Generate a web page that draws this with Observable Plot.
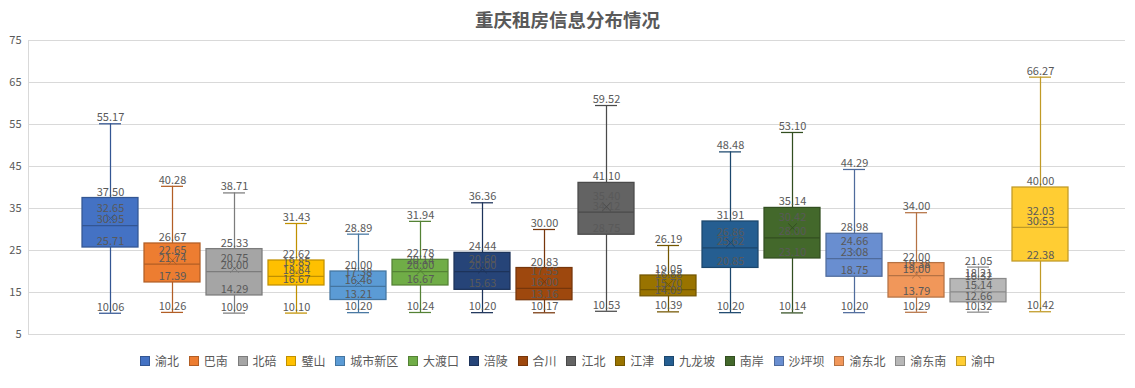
<!DOCTYPE html>
<html>
<head>
<meta charset="utf-8">
<script src="https://cdn.jsdelivr.net/npm/d3@7"></script>
<script src="https://cdn.jsdelivr.net/npm/@observablehq/plot@0.6"></script>
<style>
  body { margin: 0; background: #fff; font-family: "Noto Sans CJK SC", "Noto Sans", sans-serif; }
  #title { box-sizing: border-box; height: 28px; padding-top: 8px; line-height: 22px; text-align: center;
           font-size: 18.5px; font-weight: bold; color: #595959; }
  #chart svg { display: block; }
  #legend { box-sizing: border-box; height: 34px; padding: 0; display: flex; justify-content: center;
            align-items: center; font-size: 12px; color: #595959; line-height: 14px; }
  .item { display: flex; align-items: center; margin: 0 4.9px; }
  .sw { width: 8px; height: 8px; margin-right: 5px; border: 1px solid; }
</style>
</head>
<body>
<div id="title">重庆租房信息分布情况</div>
<div id="chart"></div>
<div id="legend"></div>
<script>
const categories = ["渝北","巴南","北碚","璧山","城市新区","大渡口","涪陵","合川","江北","江津","九龙坡","南岸","沙坪坝","渝东北","渝东南","渝中"];
const mins    = [10.06,10.26,10.09,10.10,10.20,10.24,10.20,10.17,10.53,10.39,10.20,10.14,10.20,10.29,10.32,10.42];
const q1s     = [25.71,17.39,14.29,16.67,13.21,16.67,15.63,13.16,28.75,14.09,20.85,23.10,18.75,13.79,12.66,22.38];
const medians = [30.95,21.74,20.00,18.84,16.46,20.00,20.00,16.00,34.12,15.70,25.62,28.00,23.08,19.00,15.14,30.53];
const means   = [32.65,22.65,20.75,19.85,17.38,20.14,20.60,17.55,35.40,16.88,26.86,30.42,24.66,19.38,16.32,32.03];
const q3s     = [37.50,26.67,25.33,22.62,20.00,22.78,24.44,20.83,41.10,19.05,31.91,35.14,28.98,22.00,18.21,40.00];
const maxs    = [55.17,40.28,38.71,31.43,28.89,31.94,36.36,30.00,59.52,26.19,48.48,53.10,44.29,34.00,21.05,66.27];
const yTicks  = [5,15,25,35,45,55,65,75];

const palette = ["#4472C4","#ED7D31","#A5A5A5","#FFC000","#5B9BD5","#70AD47","#264478","#9E480E",
                 "#636363","#997300","#255E91","#43682B","#698ED0","#F1975A","#B7B7B7","#FFCD33"];
const border = palette.map(c => d3.rgb(c).darker(0.8).formatHex());
const fillOf = d => palette[categories.indexOf(d.cat)];
const strokeOf = d => border[categories.indexOf(d.cat)];

const rows = categories.map((cat, i) => ({cat, min: mins[i], q1: q1s[i], median: medians[i], mean: means[i], q3: q3s[i], max: maxs[i]}));
const labels = rows.flatMap(r => ["min","q1","median","q3","max"].map(k => ({cat: r.cat, v: r[k]})));
const fmt = d3.format(".2f");

const chart = Plot.plot({
  width: 1135, height: 316,
  marginTop: 12, marginBottom: 10, marginLeft: 28, marginRight: 10,
  x: {type: "band", domain: categories, range: [74.77, 1074.23], paddingInner: 0.1, paddingOuter: 0.05, axis: null},
  y: {domain: [5, 75], axis: null},
  color: {type: "identity"},
  style: {fontFamily: '"Noto Sans CJK SC", "Noto Sans", sans-serif', background: "transparent"},
  marks: [
    Plot.gridY(yTicks, {stroke: "#d9d9d9", strokeOpacity: 1}),
    Plot.frame({anchor: "left", stroke: "#d9d9d9"}),
    Plot.axisY(yTicks, {tickSize: 0, tickPadding: 7, fontSize: 11, color: "#595959", label: null}),
    Plot.ruleX(rows, {x: "cat", y1: "min", y2: "max", stroke: strokeOf, strokeWidth: 1.25}),
    Plot.tickY(rows, {x: "cat", y: "min", stroke: strokeOf, strokeWidth: 1.25, insetLeft: 17, insetRight: 17}),
    Plot.tickY(rows, {x: "cat", y: "max", stroke: strokeOf, strokeWidth: 1.25, insetLeft: 17, insetRight: 17}),
    Plot.barY(rows, {x: "cat", y1: "q1", y2: "q3", fill: fillOf, stroke: strokeOf, strokeWidth: 1.25}),
    Plot.tickY(rows, {x: "cat", y: "median", stroke: strokeOf, strokeWidth: 1.25}),
    Plot.dot(rows, {x: "cat", y: "mean", symbol: "times", r: 4, stroke: strokeOf, strokeWidth: 1}),
    Plot.text(labels, {x: "cat", y: "v", text: d => fmt(d.v), dy: -6, fontSize: 11, fill: "#595959"}),
    Plot.text(rows, {x: "cat", y: "mean", text: d => fmt(d.mean), dy: -10, fontSize: 11, fill: "#595959"})
  ]
});
document.getElementById("chart").appendChild(chart);

const legend = document.getElementById("legend");
categories.forEach((c, i) => {
  const item = document.createElement("div");
  item.className = "item";
  const sw = document.createElement("span");
  sw.className = "sw";
  sw.style.background = palette[i];
  sw.style.borderColor = border[i];
  const t = document.createElement("span");
  t.textContent = c;
  item.appendChild(sw); item.appendChild(t);
  legend.appendChild(item);
});
</script>
</body>
</html>
